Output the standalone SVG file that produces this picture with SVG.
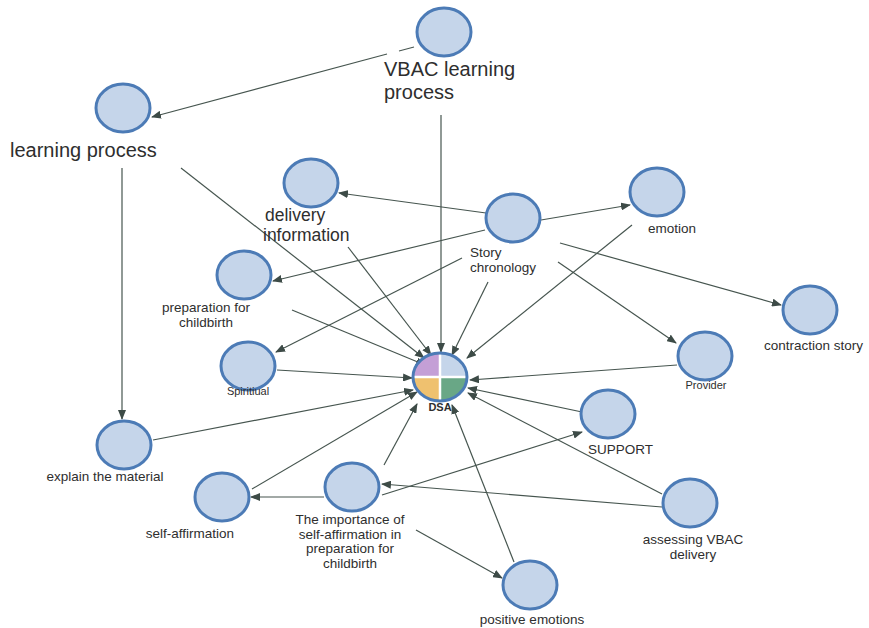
<svg xmlns="http://www.w3.org/2000/svg" width="869" height="628" viewBox="0 0 869 628">
<defs>
<style>
.n{fill:#c5d5ea;stroke:#4c7bb6;stroke-width:3}
.e{stroke:#46554f;stroke-width:1.2;fill:none;marker-end:url(#ah)}
.l{stroke:#46554f;stroke-width:1.2;fill:none}
text{font-family:"Liberation Sans",Arial,sans-serif;fill:#2e2e2e;}
.big{font-size:20px}
.mid{font-size:17.5px}
.sm{font-size:13.5px}
.xs{font-size:11px}
.c{text-anchor:middle}
</style>
<marker id="ah" markerWidth="10" markerHeight="8" refX="9" refY="4" orient="auto" markerUnits="userSpaceOnUse">
<path d="M0,0 L10,4 L0,8 Z" fill="#3d4b47"/>
</marker>
</defs>
<rect width="869" height="628" fill="#fff"/>
<g id="connectors">
<path class="l" d="M414,47 L399,51"/>
<path class="e" d="M387,54 L152,117"/>
<path class="e" d="M441,115 L441,352"/>
<path class="e" d="M122,168 L122,419"/>
<path class="e" d="M181,168 L424,358"/>
<path class="e" d="M348,247 L431,355"/>
<path class="e" d="M486,213 L339,193"/>
<path class="e" d="M541,220 L630,205"/>
<path class="e" d="M485,230 L273,281"/>
<path class="e" d="M462,258 L276,352"/>
<path class="e" d="M488,282 L452,355"/>
<path class="e" d="M560,243 L781,305"/>
<path class="e" d="M558,262 L676,343"/>
<path class="e" d="M632,225 L467,358"/>
<path class="e" d="M292,310 L425,365"/>
<path class="e" d="M277,370 L412,378"/>
<path class="e" d="M677,365 L470,380"/>
<path class="e" d="M582,412 L468,388"/>
<path class="e" d="M153,440 L413,390"/>
<path class="e" d="M252,489 L417,392"/>
<path class="e" d="M384,465 L417,404"/>
<path class="e" d="M382,495 L582,432"/>
<path class="e" d="M324,497 L251,497"/>
<path class="e" d="M416,530 L502,578"/>
<path class="e" d="M514,562 L452,405"/>
<path class="e" d="M662,494 L468,393"/>
<path class="e" d="M662,507 L382,484"/>
</g>
<g id="n-vbac">
<ellipse class="n" cx="444" cy="32" rx="27" ry="24"/>
<text class="big" x="384" y="76">VBAC learning<tspan x="384" dy="23">process</tspan></text>
</g>
<g id="n-learning">
<ellipse class="n" cx="123" cy="108" rx="27" ry="24"/>
<text class="big" x="10" y="157" font-size="20.5">learning process</text>
</g>
<g id="n-delivery">
<ellipse class="n" cx="311" cy="183" rx="27" ry="24"/>
<text class="mid" x="265" y="221">delivery<tspan x="263" dy="20">information</tspan></text>
</g>
<g id="n-story">
<ellipse class="n" cx="513" cy="218" rx="27" ry="24"/>
<text class="sm" x="470" y="257">Story<tspan x="470" dy="15">chronology</tspan></text>
</g>
<g id="n-emotion">
<ellipse class="n" cx="657" cy="192" rx="27" ry="24"/>
<text class="sm c" x="672" y="233">emotion</text>
</g>
<g id="n-contraction">
<ellipse class="n" cx="810" cy="310" rx="27" ry="24"/>
<text class="sm" x="764" y="350">contraction story</text>
</g>
<g id="n-provider">
<ellipse class="n" cx="705" cy="356" rx="27" ry="24"/>
<text class="xs c" x="706" y="389">Provider</text>
</g>
<g id="n-support">
<ellipse class="n" cx="608" cy="414" rx="27" ry="24"/>
<text class="sm" x="588" y="454">SUPPORT</text>
</g>
<g id="n-assessing">
<ellipse class="n" cx="690" cy="503" rx="27" ry="24"/>
<text class="sm c" x="693" y="544">assessing VBAC<tspan x="693" dy="15">delivery</tspan></text>
</g>
<g id="n-positive">
<ellipse class="n" cx="530" cy="585" rx="27" ry="24"/>
<text class="sm c" x="532" y="624">positive emotions</text>
</g>
<g id="n-importance">
<ellipse class="n" cx="352" cy="487" rx="27" ry="24"/>
<text class="sm c" x="350" y="524">The importance of<tspan x="350" dy="14.5">self-affirmation in</tspan><tspan x="350" dy="14.5">preparation for</tspan><tspan x="350" dy="14.5">childbirth</tspan></text>
</g>
<g id="n-selfaff">
<ellipse class="n" cx="222" cy="497" rx="27" ry="24"/>
<text class="sm c" x="190" y="538">self-affirmation</text>
</g>
<g id="n-explain">
<ellipse class="n" cx="124" cy="445" rx="27" ry="24"/>
<text class="sm c" x="105" y="481">explain the material</text>
</g>
<g id="n-spiritual">
<ellipse class="n" cx="248" cy="366" rx="27" ry="24"/>
<text class="xs c" x="248" y="395">Spiritiual</text>
</g>
<g id="n-prep">
<ellipse class="n" cx="244" cy="275" rx="27" ry="24"/>
<text class="sm c" x="206" y="312">preparation for<tspan x="206" dy="15">childbirth</tspan></text>
</g>
<g id="n-dsa">
<path d="M440,377 L440,353 A27,24 0 0 0 413,377 Z" fill="#c49fd6"/>
<path d="M440,377 L467,377 A27,24 0 0 0 440,353 Z" fill="#c5d5ea"/>
<path d="M440,377 L413,377 A27,24 0 0 0 440,401 Z" fill="#efc16f"/>
<path d="M440,377 L440,401 A27,24 0 0 0 467,377 Z" fill="#69a786"/>
<path d="M440,353 L440,401 M413,377 L467,377" stroke="#fff" stroke-width="2.5"/>
<ellipse cx="440" cy="377" rx="27" ry="24" fill="none" stroke="#4c7bb6" stroke-width="3"/>
<text class="xs c" x="440" y="411" font-weight="bold" fill="#444">DSA</text>
</g>
</svg>
